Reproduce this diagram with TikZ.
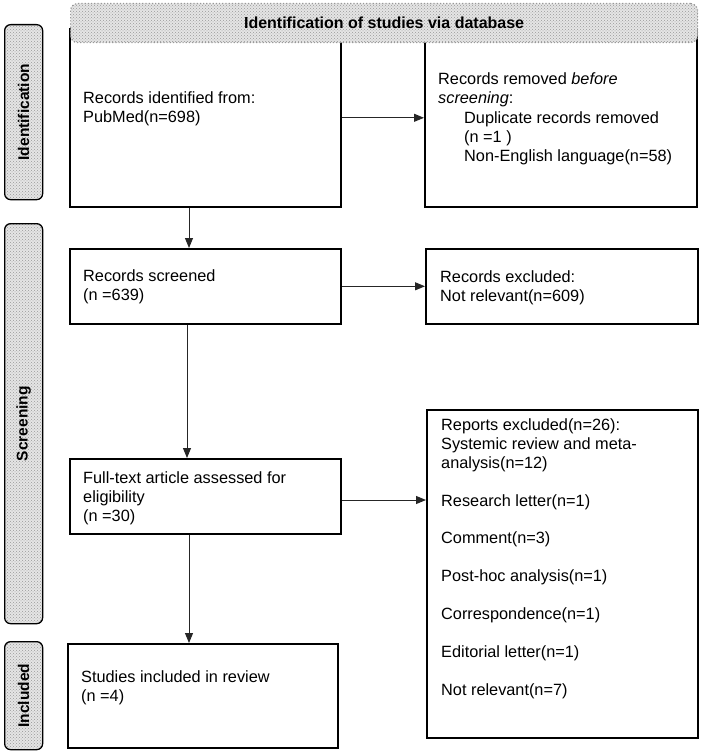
\documentclass[tikz,border=0pt]{standalone}
\usepackage{fontspec}
\setmainfont{Liberation Sans}
\usetikzlibrary{arrows.meta,patterns,calc}
\begin{document}
\begin{tikzpicture}[x=1pt,y=-1pt,
  box/.style={draw=black, line width=1.6pt, fill=white, inner sep=0pt, anchor=north west},
  txt/.style={anchor=base west, inner sep=0pt, align=left, font=\fontsize{16.3}{19}\selectfont},
  conn/.style={draw=black!85, line width=1pt, -{Triangle[length=10pt,width=8pt]}},
  phase/.style={draw=black, line width=1.3pt, rounded corners=6pt, inner sep=0pt, anchor=north west,
     preaction={fill=gray!20}, pattern=crosshatch dots, pattern color=gray!80},
  phasetxt/.style={rotate=90, font=\fontsize{15.5}{18}\selectfont\bfseries, inner sep=0pt},
  banner/.style={draw=gray!80, dotted, line width=1.2pt, rounded corners=7pt, inner sep=0pt, anchor=north west,
     preaction={fill=gray!20}, pattern=crosshatch dots, pattern color=gray!80},
  bannertxt/.style={font=\fontsize{16}{19}\selectfont\bfseries, inner sep=0pt}
]
\useasboundingbox (0,0) rectangle (702,754);
\fill[white] (0,0) rectangle (702,754);

% boxes
\node[box, minimum width=271pt, minimum height=178pt] (b1) at (69,28) {};
\node[box, minimum width=272pt, minimum height=178pt] (b2) at (424,28) {};
\node[box, minimum width=271pt, minimum height=75pt] (b3) at (69,248) {};
\node[box, minimum width=272pt, minimum height=75pt] (b4) at (425,248) {};
\node[box, minimum width=271pt, minimum height=75pt] (b5) at (69,458) {};
\node[box, minimum width=271pt, minimum height=328pt] (b6) at (426,409) {};
\node[box, minimum width=270pt, minimum height=104pt] (b7) at (67,643) {};

% banner
\node[banner, minimum width=627pt, minimum height=39pt] (ban) at (70,3) {};
\node[bannertxt] (bant) at (ban.center) {Identification of studies via database};

% phase labels
\node[phase, minimum width=38pt, minimum height=175pt] (p1) at (4,24) {};
\node[phasetxt] (p1t) at (p1.center) {Identification};
\node[phase, minimum width=38pt, minimum height=400pt] (p2) at (4,223) {};
\node[phasetxt] (p2t) at (p2.center) {Screening};
\node[phase, minimum width=38pt, minimum height=108pt] (p3) at (4,641) {};
\node[phasetxt] (p3t) at (p3.center) {Included};

% texts (anchored at the baseline of their last line)
\node[txt] (t1) at (83,123) {Records identified from:\\PubMed(n=698)};
\node[txt] (t2) at (438,161) {Records removed \textit{before}\\\textit{screening}:\\\hspace*{26pt}Duplicate records removed\\\hspace*{26pt}(n =1 )\\\hspace*{26pt}Non-English language(n=58)};
\node[txt] (t3) at (83,300) {Records screened\\(n =639)};
\node[txt] (t4) at (440,301) {Records excluded:\\Not relevant(n=609)};
\node[txt] (t5) at (83,521) {Full-text article assessed for\\eligibility\\(n =30)};
\node[txt] (t6) at (441,695) {Reports excluded(n=26):\\Systemic review and meta-\\analysis(n=12)\\[18.8pt]Research letter(n=1)\\[18.8pt]Comment(n=3)\\[18.8pt]Post-hoc analysis(n=1)\\[18.8pt]Correspondence(n=1)\\[18.8pt]Editorial letter(n=1)\\[18.8pt]Not relevant(n=7)};
\node[txt] (t7) at (81,701) {Studies included in review\\(n =4)};

% connectors
\coordinate (cx) at (189,0);
\coordinate (cx2) at (187,0);
\coordinate (ry5) at (0,500);
\draw[conn] (b1.east) -- (b1.east -| b2.west);
\draw[conn] (b1.south -| cx) -- (b3.north -| cx);
\draw[conn] (b3.east) -- (b3.east -| b4.west);
\draw[conn] (b3.south -| cx2) -- (b5.north -| cx2);
\draw[conn] (b5.east |- ry5) -- (b6.west |- ry5);
\draw[conn] (b5.south -| cx) -- (b7.north -| cx);
\end{tikzpicture}
\end{document}
